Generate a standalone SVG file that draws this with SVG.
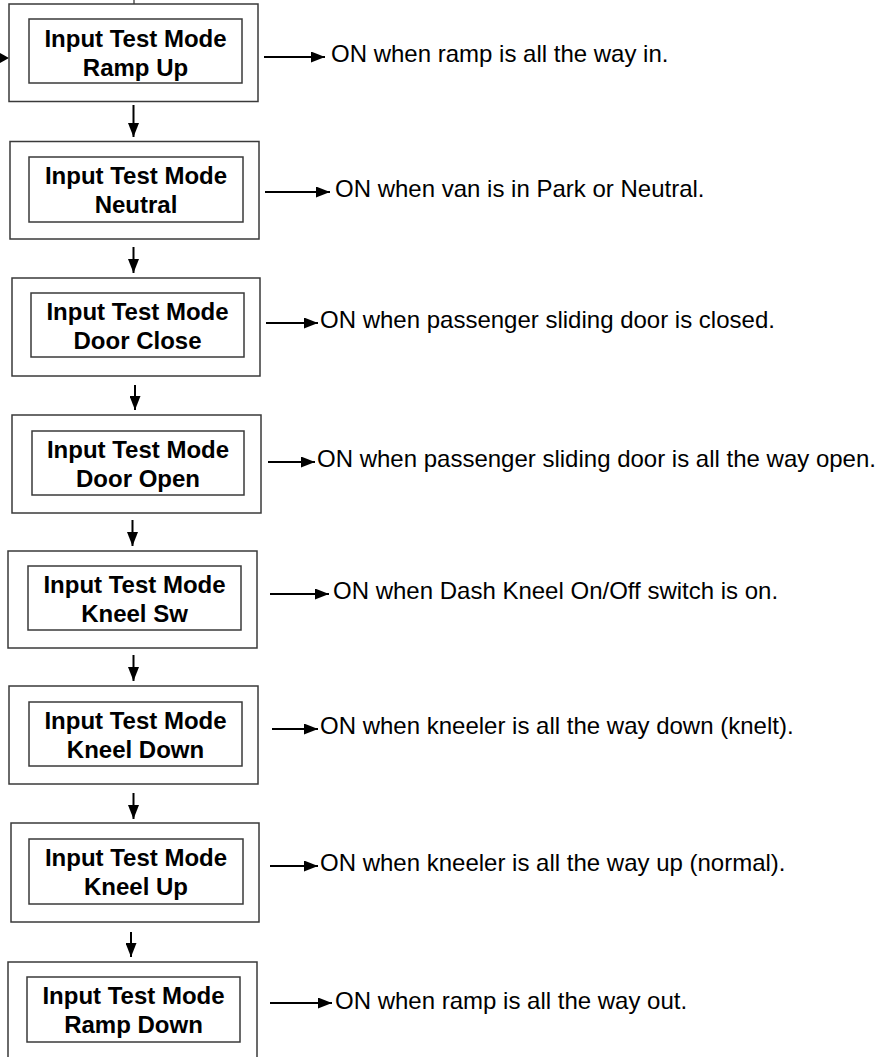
<svg xmlns="http://www.w3.org/2000/svg" width="888" height="1057" viewBox="0 0 888 1057">
<style>
.outer{fill:#fff;stroke:#3a3a3a;stroke-width:1.5}
.inner{fill:#fff;stroke:#3a3a3a;stroke-width:1.5}
.bt{font-family:"Liberation Sans",Arial,sans-serif;font-size:24px;font-weight:bold;fill:#000;text-anchor:middle}
.lt{font-family:"Liberation Sans",Arial,sans-serif;font-size:24px;fill:#000}
.ln{stroke:#000;stroke-width:2;fill:none}
</style>
<defs>
<marker id="ah" viewBox="0 0 14 11" refX="14" refY="5.5" markerWidth="14" markerHeight="11" markerUnits="userSpaceOnUse" orient="auto">
<path d="M0,0 L14,5.5 L0,11 Z" fill="#000"/>
</marker>
</defs>
<rect width="888" height="1057" fill="#fff"/>
<g id="connectors">
<line class="ln" x1="134" y1="0" x2="134" y2="4" style="stroke-width:1"/>
<path d="M0,53 L9,58 L0,63 Z" fill="#000"/>
<line class="ln" x1="133.5" y1="105" x2="133.5" y2="137" marker-end="url(#ah)"/>
<line class="ln" x1="133.5" y1="247" x2="133.5" y2="273" marker-end="url(#ah)"/>
<line class="ln" x1="135" y1="385" x2="135" y2="410" marker-end="url(#ah)"/>
<line class="ln" x1="132.5" y1="520" x2="132.5" y2="546" marker-end="url(#ah)"/>
<line class="ln" x1="133.5" y1="655" x2="133.5" y2="681" marker-end="url(#ah)"/>
<line class="ln" x1="133.5" y1="793" x2="133.5" y2="819" marker-end="url(#ah)"/>
<line class="ln" x1="131" y1="932" x2="131" y2="957" marker-end="url(#ah)"/>
<line class="ln" x1="264" y1="57" x2="325" y2="57" marker-end="url(#ah)"/>
<line class="ln" x1="265" y1="192" x2="330" y2="192" marker-end="url(#ah)"/>
<line class="ln" x1="266" y1="323" x2="318" y2="323" marker-end="url(#ah)"/>
<line class="ln" x1="268" y1="462" x2="315" y2="462" marker-end="url(#ah)"/>
<line class="ln" x1="270" y1="594" x2="329" y2="594" marker-end="url(#ah)"/>
<line class="ln" x1="272" y1="729" x2="318" y2="729" marker-end="url(#ah)"/>
<line class="ln" x1="270" y1="866" x2="318" y2="866" marker-end="url(#ah)"/>
<line class="ln" x1="270" y1="1003" x2="332" y2="1003" marker-end="url(#ah)"/>
</g>
<g id="n1">
<rect class="outer" x="9" y="4" width="249" height="97.5"/>
<rect class="inner" x="29" y="19" width="213" height="64"/>
<text class="bt" x="135.5" y="47">Input Test Mode</text>
<text class="bt" x="135.5" y="76">Ramp Up</text>
<text class="lt" x="331" y="62">ON when ramp is all the way in.</text>
</g>
<g id="n2">
<rect class="outer" x="10" y="141.5" width="249" height="97.5"/>
<rect class="inner" x="29" y="157" width="214" height="65"/>
<text class="bt" x="136" y="184">Input Test Mode</text>
<text class="bt" x="136" y="213">Neutral</text>
<text class="lt" x="335" y="197">ON when van is in Park or Neutral.</text>
</g>
<g id="n3">
<rect class="outer" x="12" y="278" width="248" height="98"/>
<rect class="inner" x="31" y="293" width="213" height="64"/>
<text class="bt" x="137.5" y="320">Input Test Mode</text>
<text class="bt" x="137.5" y="349">Door Close</text>
<text class="lt" x="320" y="328">ON when passenger sliding door is closed.</text>
</g>
<g id="n4">
<rect class="outer" x="12" y="415" width="249" height="98"/>
<rect class="inner" x="32" y="431" width="212" height="64"/>
<text class="bt" x="138" y="458">Input Test Mode</text>
<text class="bt" x="138" y="487">Door Open</text>
<text class="lt" x="317" y="467">ON when passenger sliding door is all the way open.</text>
</g>
<g id="n5">
<rect class="outer" x="8" y="551" width="249" height="97"/>
<rect class="inner" x="28" y="566" width="213" height="64"/>
<text class="bt" x="134.5" y="593">Input Test Mode</text>
<text class="bt" x="134.5" y="622">Kneel Sw</text>
<text class="lt" x="333" y="599">ON when Dash Kneel On/Off switch is on.</text>
</g>
<g id="n6">
<rect class="outer" x="9" y="686" width="249" height="98"/>
<rect class="inner" x="29" y="702" width="213" height="64"/>
<text class="bt" x="135.5" y="729">Input Test Mode</text>
<text class="bt" x="135.5" y="758">Kneel Down</text>
<text class="lt" x="320" y="734">ON when kneeler is all the way down (knelt).</text>
</g>
<g id="n7">
<rect class="outer" x="11" y="823" width="248" height="99"/>
<rect class="inner" x="29" y="839" width="214" height="65"/>
<text class="bt" x="136" y="866">Input Test Mode</text>
<text class="bt" x="136" y="895">Kneel Up</text>
<text class="lt" x="320" y="871">ON when kneeler is all the way up (normal).</text>
</g>
<g id="n8">
<rect class="outer" x="8" y="962" width="249" height="100"/>
<rect class="inner" x="27" y="977" width="213" height="65"/>
<text class="bt" x="133.5" y="1004">Input Test Mode</text>
<text class="bt" x="133.5" y="1033">Ramp Down</text>
<text class="lt" x="335" y="1009">ON when ramp is all the way out.</text>
</g>
</svg>
